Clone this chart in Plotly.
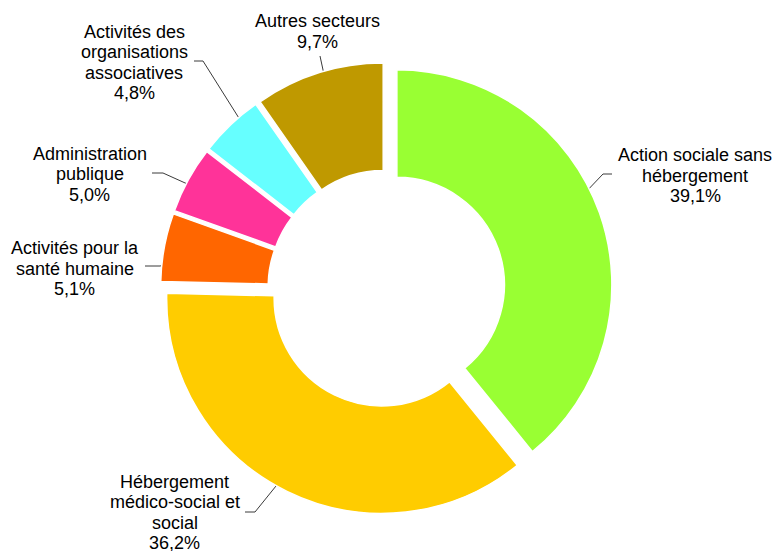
import numpy as np
import plotly.graph_objects as go

W, H = 773, 551

# data
sectors = [
    "Action sociale sans<br>hébergement",
    "Hébergement<br>médico-social et<br>social",
    "Activités pour la<br>santé humaine",
    "Administration<br>publique",
    "Activités des<br>organisations<br>associatives",
    "Autres secteurs",
]
shares = [39.1, 36.2, 5.1, 5.0, 4.8, 9.7]
colors = ["#99FF33", "#FFCC00", "#FF6600", "#FF3399", "#66FFFF", "#BF9900"]

# label placement (pixels): text centre x, first line y, leader elbow, leader end
label_x = [695, 174.5, 74.5, 89.5, 134, 317.5]
label_y0 = [155, 481.5, 248, 153.5, 31.5, 21]
elbows = [(603, 174), (255, 512), (160, 266), (163, 173), (203, 61), (320, 56)]
ends = [(612, 174), (245, 512), (145, 266), (152, 173), (194, 61), (320, 56)]

# pie geometry
cx, cy = 386.5, 288.5
R = 215
pull = 0.0512
hole = 0.5
half_box = R * (1 + pull)

fig = go.Figure()

fig.add_pie(
    values=shares,
    labels=[s.replace("<br>", " ") for s in sectors],
    marker=dict(colors=colors, line=dict(color="white", width=1.5)),
    sort=False,
    direction="clockwise",
    rotation=0,
    hole=hole,
    pull=pull,
    textinfo="none",
    hoverinfo="label+percent",
    showlegend=False,
    domain=dict(
        x=[(cx - half_box) / W, (cx + half_box) / W],
        y=[1 - (cy + half_box) / H, 1 - (cy - half_box) / H],
    ),
)

# leader lines from the middle of each ring segment
total = sum(shares)
cum = np.cumsum([0] + shares[:-1])
mid_r = R * (1 + hole) / 2
for i, v in enumerate(shares):
    theta = 2 * np.pi * (cum[i] + v / 2) / total
    dx, dy = np.sin(theta), -np.cos(theta)
    x0 = cx + pull * R * dx + mid_r * dx
    y0 = cy + pull * R * dy + mid_r * dy
    fig.add_scatter(
        x=[x0, elbows[i][0], ends[i][0]],
        y=[y0, elbows[i][1], ends[i][1]],
        mode="lines",
        line=dict(color="#3a3a3a", width=1),
        hoverinfo="skip",
        showlegend=False,
    )

    lines = sectors[i].split("<br>") + [f"{v:.1f}".replace(".", ",") + "%"]
    for k, txt in enumerate(lines):
        fig.add_annotation(
            x=label_x[i],
            y=label_y0[i] + 20.5 * k,
            xref="x",
            yref="y",
            text=txt,
            showarrow=False,
            xanchor="center",
            yanchor="middle",
            font=dict(size=18, color="#000000"),
        )

fig.update_xaxes(range=[0, W], visible=False, fixedrange=True)
fig.update_yaxes(range=[H, 0], visible=False, fixedrange=True)
fig.update_layout(
    width=W,
    height=H,
    margin=dict(l=0, r=0, t=0, b=0),
    paper_bgcolor="white",
    plot_bgcolor="rgba(0,0,0,0)",
    font=dict(family="Liberation Sans, Arial, sans-serif"),
)

# page body has a default 8px margin; drop it so the figure fills the window
fig.write_html(
    "out.html",
    config={"displayModeBar": False},
    post_script="document.body.style.margin='0';",
)
